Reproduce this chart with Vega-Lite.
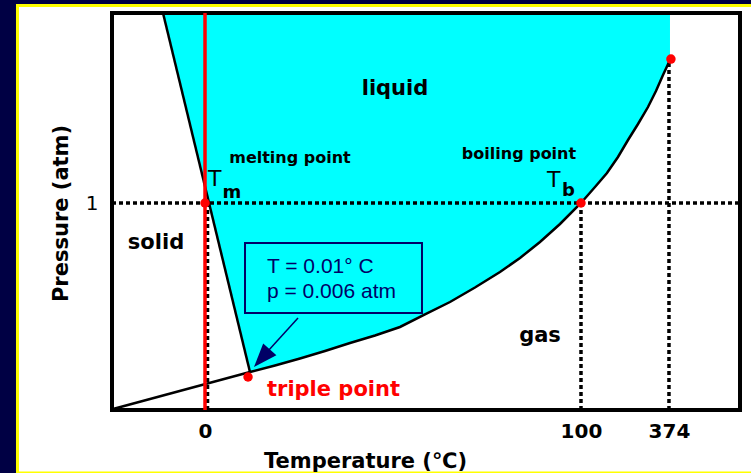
{
  "$schema": "https://vega.github.io/schema/vega-lite/v6.json",
  "width": 628,
  "height": 397,
  "autosize": {"type": "none"},
  "padding": {"left": 112, "top": 13, "right": 11, "bottom": 63},
  "background": "#000044",
  "config": {"view": {"stroke": null}, "font": "DejaVu Sans"},
  "datasets": {
    "curves": [
      {"s": "melt", "x": 8.12, "y": 100},
      {"s": "melt", "x": 21.97, "y": 9.57},
      {"s": "sub", "x": 0.16, "y": 0.25},
      {"s": "sub", "x": 21.97, "y": 9.57},
      {"s": "vap", "x": 21.97, "y": 9.57},
      {"s": "vap", "x": 25.96, "y": 11.21},
      {"s": "vap", "x": 29.94, "y": 12.97},
      {"s": "vap", "x": 33.92, "y": 14.86},
      {"s": "vap", "x": 37.90, "y": 16.88},
      {"s": "vap", "x": 41.88, "y": 18.77},
      {"s": "vap", "x": 45.86, "y": 20.91},
      {"s": "vap", "x": 49.84, "y": 24.06},
      {"s": "vap", "x": 53.82, "y": 27.20},
      {"s": "vap", "x": 57.80, "y": 30.86},
      {"s": "vap", "x": 61.78, "y": 34.76},
      {"s": "vap", "x": 64.97, "y": 38.29},
      {"s": "vap", "x": 68.15, "y": 42.32},
      {"s": "vap", "x": 71.34, "y": 46.85},
      {"s": "vap", "x": 74.68, "y": 52.14},
      {"s": "vap", "x": 76.91, "y": 56.17},
      {"s": "vap", "x": 78.82, "y": 59.70},
      {"s": "vap", "x": 80.57, "y": 63.73},
      {"s": "vap", "x": 82.17, "y": 68.01},
      {"s": "vap", "x": 83.76, "y": 72.04},
      {"s": "vap", "x": 85.35, "y": 76.32},
      {"s": "vap", "x": 86.62, "y": 80.35},
      {"s": "vap", "x": 87.74, "y": 84.38},
      {"s": "vap", "x": 88.85, "y": 88.16}
    ],
    "dotted": [
      {"x": 0, "x2": 100, "y": 52.14, "y2": 52.14},
      {"x": 74.68, "x2": 74.68, "y": 0, "y2": 52.14},
      {"x": 88.69, "x2": 88.69, "y": 0, "y2": 88.16},
      {"x": 15.21, "x2": 15.21, "y": 0, "y2": 52.14}
    ],
    "points": [
      {"x": 14.81, "y": 52.14},
      {"x": 74.68, "y": 52.14},
      {"x": 89.0, "y": 88.4},
      {"x": 21.66, "y": 8.31}
    ],
    "labels": [
      {"kind": "big", "text": "liquid", "x": 45.06, "y": 79.35},
      {"kind": "big", "text": "solid", "x": 7.01, "y": 40.55},
      {"kind": "big", "text": "gas", "x": 68.15, "y": 17.13},
      {"kind": "small", "text": "melting point", "x": 28.34, "y": 62.22},
      {"kind": "small", "text": "boiling point", "x": 64.81, "y": 63.22},
      {"kind": "red", "text": "triple point", "x": 24.68, "y": 3.53},
      {"kind": "T", "text": "T", "x": 15.29, "y": 56.42},
      {"kind": "T", "text": "T", "x": 69.27, "y": 56.17},
      {"kind": "sub", "text": "m", "x": 17.6, "y": 53.40},
      {"kind": "sub", "text": "b", "x": 71.66, "y": 53.90},
      {"kind": "box", "text": "T = 0.01° C", "x": 24.68, "y": 34.51},
      {"kind": "box", "text": "p = 0.006 atm", "x": 24.68, "y": 28.21}
    ]
  },
  "layer": [
    {
      "data": {"values": [{}]},
      "mark": {"type": "rect", "fill": "white", "stroke": "#FFFF00", "strokeWidth": 3},
      "encoding": {
        "x": {
          "datum": -15.05, "type": "quantitative",
          "scale": {"domain": [0, 100], "nice": false, "zero": false},
          "axis": {
            "values": [14.81, 74.68, 88.69],
            "labelExpr": "datum.value < 20 ? '0' : (datum.value < 80 ? '100' : '374')",
            "grid": false, "domain": false, "ticks": false, "tickSize": 0,
            "zindex": 1,
            "labelFont": "DejaVu Sans", "labelFontWeight": "bold", "labelFontSize": 20,
            "labelColor": "black", "labelBaseline": "middle", "labelPadding": 21,
            "labelFlush": false, "labelOverlap": false,
            "title": "Temperature (℃)", "titleFont": "DejaVu Sans", "titleFontSize": 21,
            "titleFontWeight": "bold", "titleColor": "black",
            "titleX": 253, "titleY": 57, "titleAlign": "center", "titleBaseline": "alphabetic"
          }
        },
        "x2": {"datum": 103.97},
        "y": {
          "datum": 101.89, "type": "quantitative",
          "scale": {"domain": [0, 100], "nice": false, "zero": false},
          "axis": {
            "values": [52.14],
            "labelExpr": "'1'",
            "grid": false, "domain": false, "ticks": false, "tickSize": 0,
            "zindex": 1,
            "labelFont": "DejaVu Sans", "labelFontWeight": "normal", "labelFontSize": 20,
            "labelColor": "black", "labelPadding": 14, "labelBaseline": "middle",
            "labelFlush": false, "labelOverlap": false,
            "title": "Pressure (atm)", "titleFont": "DejaVu Sans", "titleFontSize": 21,
            "titleFontWeight": "bold", "titleColor": "black", "titleAngle": 270,
            "titleX": -45, "titleY": 200, "titleAlign": "center", "titleBaseline": "alphabetic"
          }
        },
        "y2": {"datum": -15.87}
      }
    },
    {
      "data": {"name": "curves"},
      "transform": [{"filter": "datum.s != 'sub'"}],
      "mark": {"type": "area", "color": "#00FFFF", "opacity": 1},
      "encoding": {
        "x": {"field": "x", "type": "quantitative"},
        "y": {"field": "y", "type": "quantitative"},
        "y2": {"datum": 100}
      }
    },
    {
      "data": {"name": "dotted"},
      "mark": {"type": "rule", "color": "black", "strokeWidth": 3.5, "strokeDash": [4, 3]},
      "encoding": {
        "x": {"field": "x", "type": "quantitative"},
        "x2": {"field": "x2"},
        "y": {"field": "y", "type": "quantitative"},
        "y2": {"field": "y2"}
      }
    },
    {
      "data": {"name": "curves"},
      "mark": {"type": "line", "color": "black", "strokeWidth": 2.5},
      "encoding": {
        "x": {"field": "x", "type": "quantitative"},
        "y": {"field": "y", "type": "quantitative"},
        "detail": {"field": "s"}
      }
    },
    {
      "data": {"values": [{}]},
      "mark": {"type": "rect", "fill": null, "fillOpacity": 0, "stroke": "black", "strokeWidth": 4},
      "encoding": {
        "x": {"datum": 0, "type": "quantitative"},
        "x2": {"datum": 100},
        "y": {"datum": 0, "type": "quantitative"},
        "y2": {"datum": 100}
      }
    },
    {
      "data": {"values": [{}]},
      "mark": {"type": "rule", "color": "#FF0000", "strokeWidth": 3.5},
      "encoding": {
        "x": {"datum": 14.81, "type": "quantitative"},
        "y": {"datum": 0, "type": "quantitative"},
        "y2": {"datum": 100}
      }
    },
    {
      "data": {"name": "points"},
      "mark": {"type": "point", "filled": true, "color": "#FF0000", "opacity": 1, "size": 90, "shape": "circle"},
      "encoding": {
        "x": {"field": "x", "type": "quantitative"},
        "y": {"field": "y", "type": "quantitative"}
      }
    },
    {
      "data": {"values": [{}]},
      "mark": {"type": "rect", "fill": "#00FFFF", "stroke": "#000066", "strokeWidth": 2},
      "encoding": {
        "x": {"datum": 21.18, "type": "quantitative"},
        "x2": {"datum": 49.36},
        "y": {"datum": 42.07, "type": "quantitative"},
        "y2": {"datum": 24.43}
      }
    },
    {
      "data": {"values": [{"x": 29.62, "y": 23.17}, {"x": 23.25, "y": 12.09}]},
      "mark": {"type": "line", "color": "#000066", "strokeWidth": 1.5},
      "encoding": {
        "x": {"field": "x", "type": "quantitative"},
        "y": {"field": "y", "type": "quantitative"}
      }
    },
    {
      "data": {"values": [{"x": 22.61, "y": 10.83}]},
      "mark": {"type": "point", "filled": true, "color": "#000066", "opacity": 1, "size": 560, "angle": 221.9, "shape": "M0,0L0.75,2L-0.75,2Z"},
      "encoding": {
        "x": {"field": "x", "type": "quantitative"},
        "y": {"field": "y", "type": "quantitative"}
      }
    },
    {
      "data": {"name": "labels"},
      "transform": [{"filter": "datum.kind == 'big'"}],
      "mark": {"type": "text", "font": "DejaVu Sans", "fontWeight": "bold", "fontSize": 21, "color": "black", "align": "center", "baseline": "alphabetic"},
      "encoding": {
        "x": {"field": "x", "type": "quantitative"},
        "y": {"field": "y", "type": "quantitative"},
        "text": {"field": "text"}
      }
    },
    {
      "data": {"name": "labels"},
      "transform": [{"filter": "datum.kind == 'small'"}],
      "mark": {"type": "text", "font": "DejaVu Sans", "fontWeight": "bold", "fontSize": 16, "color": "black", "align": "center", "baseline": "alphabetic"},
      "encoding": {
        "x": {"field": "x", "type": "quantitative"},
        "y": {"field": "y", "type": "quantitative"},
        "text": {"field": "text"}
      }
    },
    {
      "data": {"name": "labels"},
      "transform": [{"filter": "datum.kind == 'red'"}],
      "mark": {"type": "text", "font": "DejaVu Sans", "fontWeight": "bold", "fontSize": 21, "color": "#FF0000", "align": "left", "baseline": "alphabetic"},
      "encoding": {
        "x": {"field": "x", "type": "quantitative"},
        "y": {"field": "y", "type": "quantitative"},
        "text": {"field": "text"}
      }
    },
    {
      "data": {"name": "labels"},
      "transform": [{"filter": "datum.kind == 'T'"}],
      "mark": {"type": "text", "font": "DejaVu Sans", "fontWeight": "normal", "fontSize": 22, "color": "black", "align": "left", "baseline": "alphabetic"},
      "encoding": {
        "x": {"field": "x", "type": "quantitative"},
        "y": {"field": "y", "type": "quantitative"},
        "text": {"field": "text"}
      }
    },
    {
      "data": {"name": "labels"},
      "transform": [{"filter": "datum.kind == 'sub'"}],
      "mark": {"type": "text", "font": "DejaVu Sans", "fontWeight": "bold", "fontSize": 18, "color": "black", "align": "left", "baseline": "alphabetic"},
      "encoding": {
        "x": {"field": "x", "type": "quantitative"},
        "y": {"field": "y", "type": "quantitative"},
        "text": {"field": "text"}
      }
    },
    {
      "data": {"name": "labels"},
      "transform": [{"filter": "datum.kind == 'box'"}],
      "mark": {"type": "text", "font": "Liberation Sans", "fontWeight": "normal", "fontSize": 21, "color": "#000066", "align": "left", "baseline": "alphabetic"},
      "encoding": {
        "x": {"field": "x", "type": "quantitative"},
        "y": {"field": "y", "type": "quantitative"},
        "text": {"field": "text"}
      }
    }
  ]
}
